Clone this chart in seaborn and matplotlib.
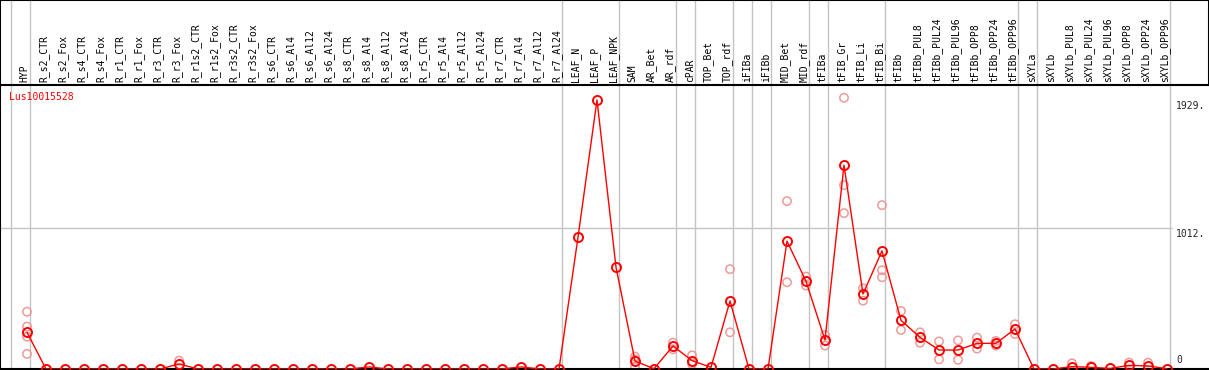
import matplotlib

matplotlib.use("Agg")
import matplotlib.pyplot as plt
import numpy as np
import pandas as pd
import seaborn as sns

# ── Data ─────────────────────────────────────────────────────────────────────
gene = "Lus10015528"

categories = [
    "HYP",
    "R_s2_CTR", "R_s2_Fox", "R_s4_CTR", "R_s4_Fox", "R_r1_CTR", "R_r1_Fox",
    "R_r3_CTR", "R_r3_Fox", "R_r1s2_CTR", "R_r1s2_Fox", "R_r3s2_CTR", "R_r3s2_Fox",
    "R_s6_CTR", "R_s6_Al4", "R_s6_Al12", "R_s6_Al24",
    "R_s8_CTR", "R_s8_Al4", "R_s8_Al12", "R_s8_Al24",
    "R_r5_CTR", "R_r5_Al4", "R_r5_Al12", "R_r5_Al24",
    "R_r7_CTR", "R_r7_Al4", "R_r7_Al12", "R_r7_Al24",
    "LEAF_N", "LEAF_P", "LEAF_NPK",
    "SAM", "AR_Bet", "AR_rdf", "cPAR", "TOP_Bet", "TOP_rdf", "iFIBa", "iFIBb",
    "MID_Bet", "MID_rdf", "tFIBa", "tFIB_Gr", "tFIB_Li", "tFIB_Bi",
    "tFIBb", "tFIBb_PUL8", "tFIBb_PUL24", "tFIBb_PUL96",
    "tFIBb_OPP8", "tFIBb_OPP24", "tFIBb_OPP96",
    "sXYLa", "sXYLb", "sXYLb_PUL8", "sXYLb_PUL24", "sXYLb_PUL96",
    "sXYLb_OPP8", "sXYLb_OPP24", "sXYLb_OPP96",
]

means = [
    263,
    0, 0, 0, 0, 0, 0, 0, 36, 0, 0, 0, 0,
    0, 0, 0, 0, 0, 15, 0, 0, 0, 0, 0, 0, 0, 15, 0, 0,
    945, 1929, 730,
    57, 2, 165, 60, 12, 488, 0, 0,
    917, 629, 208, 1462, 538, 847,
    349, 227, 136, 136, 184, 184, 287,
    0, 0, 17, 12, 4, 26, 22, 2,
]

# individual replicates (faded circles)
rep_labels = [
    "HYP", "HYP", "HYP", "HYP",
    "R_r3_Fox",
    "SAM", "SAM", "SAM",
    "AR_rdf", "AR_rdf",
    "cPAR", "cPAR",
    "TOP_rdf", "TOP_rdf",
    "MID_Bet", "MID_Bet",
    "MID_rdf", "MID_rdf",
    "tFIBa", "tFIBa",
    "tFIB_Gr", "tFIB_Gr", "tFIB_Gr",
    "tFIB_Li", "tFIB_Li",
    "tFIB_Bi", "tFIB_Bi", "tFIB_Bi",
    "tFIBb", "tFIBb",
    "tFIBb_PUL8", "tFIBb_PUL8",
    "tFIBb_PUL24", "tFIBb_PUL24",
    "tFIBb_PUL96", "tFIBb_PUL96",
    "tFIBb_OPP8", "tFIBb_OPP8",
    "tFIBb_OPP24", "tFIBb_OPP24",
    "tFIBb_OPP96", "tFIBb_OPP96",
    "sXYLb_PUL8", "sXYLb_PUL24", "sXYLb_OPP8", "sXYLb_OPP24",
]
rep_values = [
    411, 304, 232, 108,
    60,
    89, 69, 17,
    189, 141,
    98, 36,
    716, 263,
    1204, 622,
    663, 598,
    244, 168,
    1945, 1319, 1118,
    579, 490,
    1175, 708, 658,
    416, 280,
    263, 189,
    198, 69,
    205, 66,
    225, 146,
    201, 168,
    321, 251,
    41, 22, 46, 46,
]

# how many columns in each block between the grey separators
group_sizes = [1, 28, 3, 3, 1, 2, 1, 1, 2, 1, 3, 7, 1, 7]

ytick_values = [0, 1012, 1929]
ytick_texts = ["0", "1012.", "1929."]

# ── Layout (pixels of a 1209x370 picture) ────────────────────────────────────
W, H = 1209, 370
X0, DX = 27, 19          # pixel x of first column and column pitch
LABEL_BOTTOM = 85        # pixel y of the line below the labels
PLOT_BOTTOM = 369
TOP_VALUE = 1929 * (PLOT_BOTTOM - LABEL_BOTTOM) / (PLOT_BOTTOM - 100)

RED = "#ff0000"
PALE = "#f09a9a"
GRID = "#c4c4c4"

sns.set_style("white")
plt.rcParams["font.family"] = ["DejaVu Sans Mono"]

df = pd.DataFrame({"idx": np.arange(len(categories)), "value": means})
pos = {c: i for i, c in enumerate(categories)}
reps = pd.DataFrame({"idx": [pos[c] for c in rep_labels], "value": rep_values})

xlim = (-X0 / DX, (W - X0) / DX)
sep_x = [-1 + 0.18] + list(np.cumsum(group_sizes) - 1 + 0.18)

fig = plt.figure(figsize=(W / 100, H / 100), dpi=100)
ax = fig.add_axes([0, (H - PLOT_BOTTOM) / H, 1, (PLOT_BOTTOM - LABEL_BOTTOM) / H])
ax_lab = fig.add_axes([0, (H - LABEL_BOTTOM) / H, 1, LABEL_BOTTOM / H])

# ── label strip ──────────────────────────────────────────────────────────────
ax_lab.set_xlim(*xlim)
ax_lab.set_ylim(0, 1)
for x in sep_x:
    ax_lab.axvline(x, color=GRID, lw=1, zorder=0)
for i, c in enumerate(categories):
    ax_lab.text(i - 0.12, 0.03, c, rotation=90, ha="center", va="bottom",
                fontsize=7, color="black")
ax_lab.set_xticks([])
ax_lab.set_yticks([])
for s in ax_lab.spines.values():
    s.set_color("black")
    s.set_linewidth(1.5)

# ── main plot ────────────────────────────────────────────────────────────────
ax.set_xlim(*xlim)
ax.set_ylim(0, TOP_VALUE)
for x in sep_x:
    ax.axvline(x, color=GRID, lw=1, zorder=0)
ax.axhline(1012, xmin=0, xmax=1172 / W, color=GRID, lw=1, zorder=0)

sns.scatterplot(data=reps, x="idx", y="value", ax=ax, marker="o",
                facecolors="none", edgecolor=PALE, linewidth=1.1, s=36,
                zorder=2, legend=False)
sns.lineplot(data=df, x="idx", y="value", ax=ax, color=RED, lw=1,
             marker="o", markersize=6.5, markerfacecolor="none",
             markeredgecolor=RED, markeredgewidth=1.4, zorder=3)

label_x = (1176 - X0) / DX
for v, t in zip(ytick_values, ytick_texts):
    if v == 0:
        ax.text(label_x, 30, t, fontsize=7, ha="left", va="bottom")
    else:
        ax.text(label_x, v - 8, t, fontsize=7, ha="left", va="top")

ax.text(9 / W, 1 - 7 / (PLOT_BOTTOM - LABEL_BOTTOM), gene, transform=ax.transAxes,
        color=RED, fontsize=7, ha="left", va="top")

ax.set_xticks([])
ax.set_yticks([])
ax.set_xlabel("")
ax.set_ylabel("")
ax.spines["top"].set_visible(False)
ax.spines["right"].set_visible(False)
for s in ("left", "bottom"):
    ax.spines[s].set_color("black")
    ax.spines[s].set_linewidth(1.5)

fig.savefig("out.png", dpi=100, facecolor="white")
